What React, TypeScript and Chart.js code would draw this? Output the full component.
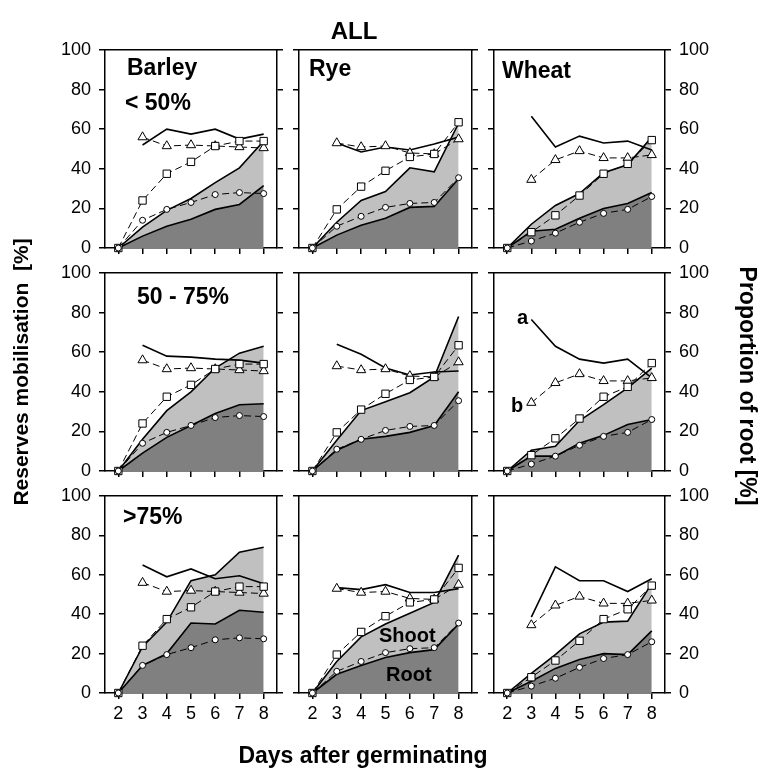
import React, { useEffect, useRef } from "react";
import { Chart, registerables } from "chart.js";
Chart.register(...registerables);

// ---------------- DATA ----------------
const DAYS = [2, 3, 4, 5, 6, 7, 8];
const Y_TICKS = [0, 20, 40, 60, 80, 100];

// shared reference series per species (dashed lines)
const BARLEY_SQ = [0, 24, 37.5, 43.5, 51.5, 54, 54];
const BARLEY_TRI = [null, 56, 51.5, 52, 51.5, 51, 50.5];
const BARLEY_CIR = [0, 14, 19.5, 23, 27, 28, 27.5];
const RYE_SQ = [0, 19.5, 31, 39, 46, 47.5, 63.5];
const RYE_TRI = [null, 53, 51, 51.5, 48, 47.5, 55];
const RYE_CIR = [0, 11, 16, 20.5, 22.5, 23, 35.5];
const WHEAT_SQ = [0, 8, 16.5, 26.5, 37.5, 42.5, 54.5];
const WHEAT_TRI = [null, 34.5, 44.5, 49, 45.5, 45.5, 47];
const WHEAT_CIR = [0, 3.5, 7.5, 13, 17.5, 19.5, 26];

// < 50 %
const BARLEY_LOW_ROOT = [0, 6, 11, 14.5, 19.5, 22, 31.5];
const BARLEY_LOW_TOTAL = [0, 10.5, 19, 25, 33, 40.5, 54];
const BARLEY_LOW_PROP = [null, 52, 60, 57.5, 60, 55, 57.5];
const RYE_LOW_ROOT = [0, 6.5, 11.5, 15, 20.5, 21, 35];
const RYE_LOW_TOTAL = [0, 13, 24, 28.5, 40.5, 38.5, 63];
const RYE_LOW_PROP = [null, 53, 48.5, 51, 49.5, 52.5, 56];
const WHEAT_LOW_ROOT = [0, 8.5, 9.5, 15, 20, 22.5, 28];
const WHEAT_LOW_TOTAL = [0, 12, 21.5, 27.5, 38, 42, 56];
const WHEAT_LOW_PROP = [null, 66.5, 51, 56.5, 53, 54, 49.5];

// 50 - 75 %
const BARLEY_MID_ROOT = [0, 9, 17, 23, 29, 33.5, 34];
const BARLEY_MID_TOTAL = [0, 16, 30.5, 40, 52, 59.5, 63];
const BARLEY_MID_PROP = [null, 63.5, 58, 57.5, 56.5, 56, 54.5];
const RYE_MID_ROOT = [0, 10.5, 16, 17.5, 19.5, 23, 40];
const RYE_MID_TOTAL = [0, 15.5, 30.5, 35, 39.5, 47.5, 78];
const RYE_MID_PROP = [null, 64, 59, 52, 48.5, 50, 50.5];
const WHEAT_MID_ROOT = [0, 7.5, 7.5, 14, 18, 23.5, 26];
const WHEAT_MID_TOTAL = [0, 10.5, 12.5, 25.5, 33.5, 42, 52];
const WHEAT_MID_PROP = [null, 76.5, 63, 56.5, 54.5, 56.5, 47];

// > 75 %
const BARLEY_HIGH_ROOT = [0, 14, 20, 35.5, 35, 42, 41];
const BARLEY_HIGH_TOTAL = [0, 23.5, 36, 57, 60, 71.5, 74];
const BARLEY_HIGH_PROP = [null, 65, 59, 63, 58, 59.5, 55.5];
const RYE_HIGH_ROOT = [0, 9.5, 14, 18, 20.5, 22, 35];
const RYE_HIGH_TOTAL = [0, 16, 28.5, 35, 40.5, 46, 70];
const RYE_HIGH_PROP = [null, 53.5, 52.5, 55, 51, 51, 53];
const WHEAT_HIGH_ROOT = [0, 6, 12.5, 17, 20, 19.5, 31.5];
const WHEAT_HIGH_TOTAL = [0, 10, 19.5, 30, 36, 36.5, 55.5];
const WHEAT_HIGH_PROP = [null, 38.5, 64, 57, 57, 51.5, 58];

// ---------------- LAYOUT / STYLE ----------------
const W = 760;
const H = 780;
const FONT = "'Liberation Sans', Arial, Helvetica, sans-serif";
const COL_LEFT = [105, 299, 494];
const COL_RIGHT = [277, 472, 665];
const ROW_TOP = [50, 273, 496];
const ROW_BOTTOM = [248, 471, 693];
const X_MIN = 1.45;
const X_MAX = 8.55;
const LEFT_AXIS_W = 96;
const RIGHT_AXIS_W = 94;
const BOTTOM_AXIS_H = 80;
const DARK = "#808080";
const LIGHT = "#c0c0c0";

type Txt = { text: string; x: number; y: number; size: number; align?: CanvasTextAlign; baseline?: CanvasTextBaseline; rotate?: number };

const GLOBAL_TEXT: Txt[] = [
  { text: "ALL", x: 354, y: 39, size: 24, align: "center" },
  { text: "Reserves mobilisation  [%]", x: 22, y: 372, size: 21, align: "center", baseline: "middle", rotate: -Math.PI / 2 },
  { text: "Proportion of root [%]", x: 746, y: 386, size: 23, align: "center", baseline: "middle", rotate: Math.PI / 2 },
  { text: "Days after germinating", x: 363, y: 757, size: 23, align: "center", baseline: "middle" },
];

const PANELS = [
  { row: 0, col: 0, root: BARLEY_LOW_ROOT, total: BARLEY_LOW_TOTAL, prop: BARLEY_LOW_PROP, sq: BARLEY_SQ, tri: BARLEY_TRI, cir: BARLEY_CIR,
    text: [{ text: "Barley", x: 127, y: 75, size: 23 }, { text: "< 50%", x: 125, y: 110, size: 23 }] as Txt[] },
  { row: 0, col: 1, root: RYE_LOW_ROOT, total: RYE_LOW_TOTAL, prop: RYE_LOW_PROP, sq: RYE_SQ, tri: RYE_TRI, cir: RYE_CIR,
    text: [{ text: "Rye", x: 309, y: 76, size: 23 }] as Txt[] },
  { row: 0, col: 2, root: WHEAT_LOW_ROOT, total: WHEAT_LOW_TOTAL, prop: WHEAT_LOW_PROP, sq: WHEAT_SQ, tri: WHEAT_TRI, cir: WHEAT_CIR,
    text: [{ text: "Wheat", x: 502, y: 78, size: 23 }] as Txt[] },
  { row: 1, col: 0, root: BARLEY_MID_ROOT, total: BARLEY_MID_TOTAL, prop: BARLEY_MID_PROP, sq: BARLEY_SQ, tri: BARLEY_TRI, cir: BARLEY_CIR,
    text: [{ text: "50 - 75%", x: 137, y: 304, size: 23 }] as Txt[] },
  { row: 1, col: 1, root: RYE_MID_ROOT, total: RYE_MID_TOTAL, prop: RYE_MID_PROP, sq: RYE_SQ, tri: RYE_TRI, cir: RYE_CIR,
    text: [] as Txt[] },
  { row: 1, col: 2, root: WHEAT_MID_ROOT, total: WHEAT_MID_TOTAL, prop: WHEAT_MID_PROP, sq: WHEAT_SQ, tri: WHEAT_TRI, cir: WHEAT_CIR,
    text: [{ text: "a", x: 517, y: 324, size: 20 }, { text: "b", x: 511, y: 412, size: 20 }] as Txt[] },
  { row: 2, col: 0, root: BARLEY_HIGH_ROOT, total: BARLEY_HIGH_TOTAL, prop: BARLEY_HIGH_PROP, sq: BARLEY_SQ, tri: BARLEY_TRI, cir: BARLEY_CIR,
    text: [{ text: ">75%", x: 123, y: 524, size: 23 }] as Txt[] },
  { row: 2, col: 1, root: RYE_HIGH_ROOT, total: RYE_HIGH_TOTAL, prop: RYE_HIGH_PROP, sq: RYE_SQ, tri: RYE_TRI, cir: RYE_CIR,
    text: [{ text: "Shoot", x: 379, y: 642, size: 20 }, { text: "Root", x: 386, y: 681, size: 20 }] as Txt[] },
  { row: 2, col: 2, root: WHEAT_HIGH_ROOT, total: WHEAT_HIGH_TOTAL, prop: WHEAT_HIGH_PROP, sq: WHEAT_SQ, tri: WHEAT_TRI, cir: WHEAT_CIR,
    text: [] as Txt[] },
];

const toPts = (arr: (number | null)[]) => DAYS.map((d, i) => ({ x: d, y: arr[i] }));

function makeTextPlugin(items: Txt[]) {
  return {
    id: "panelText",
    afterDraw(chart: any) {
      const ctx = chart.ctx as CanvasRenderingContext2D;
      for (const t of items) {
        ctx.save();
        ctx.font = `bold ${t.size}px ${FONT}`;
        ctx.fillStyle = "#000";
        ctx.textAlign = t.align || "left";
        ctx.textBaseline = t.baseline || "alphabetic";
        ctx.translate(t.x, t.y);
        if (t.rotate) ctx.rotate(t.rotate);
        ctx.fillText(t.text, 0, 0);
        ctx.restore();
      }
    },
  };
}

function Panel({ p, extra }: { p: (typeof PANELS)[number]; extra: Txt[] }) {
  const ref = useRef<HTMLCanvasElement>(null);
  useEffect(() => {
    const x0 = COL_LEFT[p.col];
    const x1 = COL_RIGHT[p.col];
    const y0 = ROW_TOP[p.row];
    const y1 = ROW_BOTTOM[p.row];
    const dashed = (arr: (number | null)[], style: string, radius: number) => ({
      data: toPts(arr),
      xAxisID: "x",
      yAxisID: "y",
      borderColor: "#000",
      borderWidth: 1,
      borderDash: [7, 4],
      pointStyle: style,
      pointRadius: radius,
      pointBackgroundColor: "#fff",
      pointBorderColor: "#000",
      pointBorderWidth: 1,
      fill: false,
      tension: 0,
      clip: false,
    });
    const solid = (arr: (number | null)[], fill: any, bg: string) => ({
      data: toPts(arr),
      xAxisID: "x",
      yAxisID: "y",
      borderColor: "#000",
      borderWidth: 1.6,
      pointRadius: 0,
      fill,
      backgroundColor: bg,
      tension: 0,
      clip: false,
    });
    const grid = { drawOnChartArea: false, drawTicks: true, tickLength: 6, color: "#000", lineWidth: 1.5 };
    const border = { display: true, color: "#000", width: 1.5 };
    const tickFont = { family: FONT, size: 18 };
    const chart = new Chart(ref.current as HTMLCanvasElement, {
      type: "line",
      data: {
        datasets: [
          dashed(p.cir, "circle", 3),
          dashed(p.sq, "rect", 5.2),
          dashed(p.tri, "triangle", 5.3),
          solid(p.prop, false, "transparent"),
          solid(p.total, "+1", LIGHT),
          solid(p.root, "origin", DARK),
        ] as any,
      },
      options: {
        responsive: false,
        animation: false,
        events: [],
        layout: {
          padding: {
            left: x0 - LEFT_AXIS_W,
            right: W - x1 - RIGHT_AXIS_W,
            top: y0,
            bottom: H - y1 - BOTTOM_AXIS_H,
          },
        },
        plugins: {
          legend: { display: false },
          tooltip: { enabled: false },
          filler: { propagate: false, drawTime: "beforeDatasetsDraw" },
        } as any,
        scales: {
          x: {
            type: "linear",
            position: "bottom",
            min: X_MIN,
            max: X_MAX,
            afterBuildTicks: (s: any) => {
              s.ticks = DAYS.map((v) => ({ value: v }));
            },
            afterFit: (s: any) => {
              s.height = BOTTOM_AXIS_H;
            },
            ticks: {
              display: p.row === 2,
              color: "#000",
              font: tickFont,
              padding: 4,
              maxRotation: 0,
              autoSkip: false,
              callback: (v: any) => String(v),
            },
            grid,
            border,
          },
          xTop: {
            type: "linear",
            position: "top",
            min: X_MIN,
            max: X_MAX,
            ticks: { display: false },
            grid: { display: false, drawTicks: false },
            border,
            afterFit: (s: any) => {
              s.height = 0;
            },
          },
          y: {
            type: "linear",
            position: "left",
            min: 0,
            max: 100,
            afterBuildTicks: (s: any) => {
              s.ticks = Y_TICKS.map((v) => ({ value: v }));
            },
            afterFit: (s: any) => {
              s.width = LEFT_AXIS_W;
            },
            ticks: { display: p.col === 0, color: "#000", font: tickFont, padding: 8, callback: (v: any) => String(v) },
            grid,
            border,
          },
          y2: {
            type: "linear",
            position: "right",
            min: 0,
            max: 100,
            afterBuildTicks: (s: any) => {
              s.ticks = Y_TICKS.map((v) => ({ value: v }));
            },
            afterFit: (s: any) => {
              s.width = RIGHT_AXIS_W;
            },
            ticks: { display: p.col === 2, color: "#000", font: tickFont, padding: 8, callback: (v: any) => String(v) },
            grid,
            border,
          },
        } as any,
      },
      plugins: [makeTextPlugin([...p.text, ...extra])],
    });
    return () => chart.destroy();
  }, []);
  return (
    <canvas
      ref={ref}
      width={W}
      height={H}
      style={{ position: "absolute", left: 0, top: 0, width: W, height: H }}
    />
  );
}

export default function App() {
  return (
    <div style={{ position: "absolute", left: 0, top: 0, width: W, height: H, background: "#fff" }}>
      {PANELS.map((p, i) => (
        <Panel key={i} p={p} extra={i === 0 ? GLOBAL_TEXT : []} />
      ))}
    </div>
  );
}
